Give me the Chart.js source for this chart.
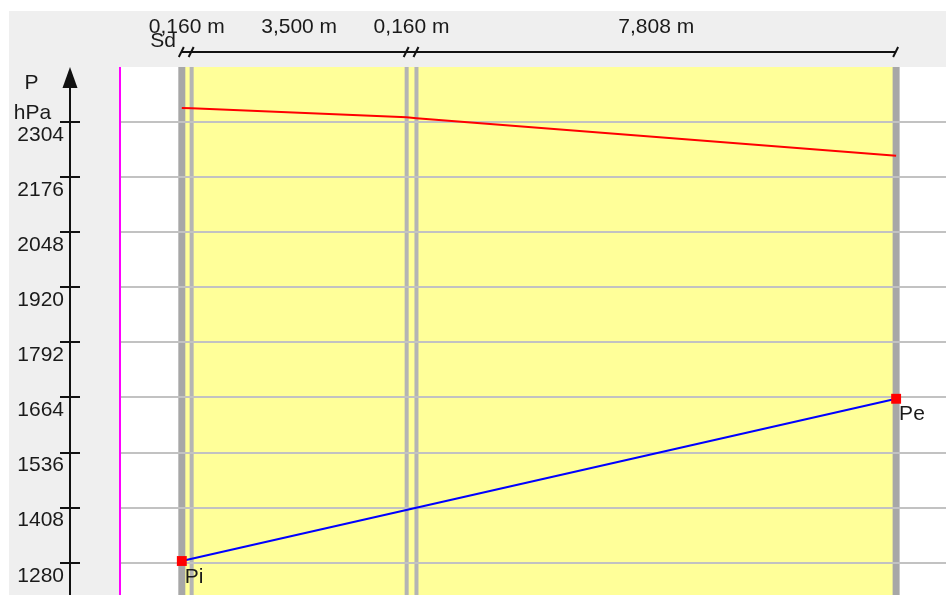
<!DOCTYPE html>
<html>
<head>
<meta charset="utf-8">
<script src="https://cdn.jsdelivr.net/npm/chart.js@4/dist/chart.umd.min.js"></script>
<style>
  html, body { margin: 0; padding: 0; background: #fff; overflow: hidden; }
  #wrap { position: relative; width: 946px; height: 595px; }
  canvas { display: block; }
</style>
</head>
<body>
<div id="wrap"><canvas id="glaser" width="946" height="595"></canvas></div>
<script>
// Layer build-up: diffusion-equivalent air layer thickness Sd of each layer (m)
const layerLabels = ['0,160 m', '3,500 m', '0,160 m', '7,808 m'];
// Cumulative Sd at each layer boundary (m)
const boundarySd = [0, 0.16, 3.66, 3.82, 11.628];
// Saturation vapour pressure at each boundary (hPa)
const psat = [2337, 2336, 2315, 2313, 2226];
// Partial vapour pressure inside (Pi) and outside (Pe)
const vapourSd = [0, 11.628];
const vapourP = [1284, 1661];
const vapourNames = ['Pi', 'Pe'];
// Pressure axis ticks (hPa)
const pTicks = [1280, 1408, 1536, 1664, 1792, 1920, 2048, 2176, 2304];

const X_MIN = -0.99, X_MAX = 12.44;
const Y_MIN = 1205, Y_MAX = 2432;

const FONT = '21px "Liberation Sans", Arial, sans-serif';
const TEXT = '#1a1a1a';

const toXY = (xs, ys) => xs.map((v, i) => ({ x: v, y: ys[i] }));

const framePlugin = {
  id: 'frame',
  beforeDraw(chart) {
    const { ctx, chartArea: a, scales: { x } } = chart;
    ctx.save();
    ctx.fillStyle = '#ffffff';
    ctx.fillRect(0, 0, chart.width, chart.height);
    // grey panels for the Sd band and the pressure axis
    ctx.fillStyle = '#efefef';
    ctx.fillRect(9, 11, chart.width - 9, a.top - 11);
    ctx.fillRect(9, 11, a.left - 2 - 9, chart.height - 11);
    // wall cross-section
    const x0 = x.getPixelForValue(boundarySd[0]);
    const x1 = x.getPixelForValue(boundarySd[boundarySd.length - 1]);
    ctx.fillStyle = '#ffff99';
    ctx.fillRect(x0, a.top, x1 - x0, a.bottom - a.top);
    // layer boundaries
    boundarySd.forEach((v, i) => {
      const outer = i === 0 || i === boundarySd.length - 1;
      const w = outer ? 7 : 4;
      const px = x.getPixelForValue(v);
      ctx.fillStyle = outer ? '#a7a7a7' : '#b4b4b4';
      ctx.fillRect(px - w / 2, a.top, w, a.bottom - a.top);
    });
    ctx.restore();
  },
  afterDraw(chart) {
    const { ctx, chartArea: a, scales: { x, y } } = chart;
    ctx.save();
    // left edge of the diagram
    ctx.fillStyle = '#ff00ff';
    ctx.fillRect(a.left - 2, a.top, 2, a.bottom - a.top);

    // pressure axis with arrow
    ctx.fillStyle = '#111';
    ctx.fillRect(69, 86, 2, chart.height - 86);
    ctx.beginPath();
    ctx.moveTo(70, 67);
    ctx.lineTo(77.5, 88);
    ctx.lineTo(62.5, 88);
    ctx.closePath();
    ctx.fill();
    pTicks.forEach(v => {
      const py = Math.round(y.getPixelForValue(v));
      ctx.fillRect(60, py - 1, 20, 2);
    });
    ctx.font = FONT;
    ctx.fillStyle = TEXT;
    ctx.textAlign = 'center';
    ctx.textBaseline = 'alphabetic';
    ctx.fillText('P', 31.5, 89);
    ctx.fillText('hPa', 32.5, 119);

    // Sd axis along the top
    const x0 = x.getPixelForValue(boundarySd[0]);
    const x1 = x.getPixelForValue(boundarySd[boundarySd.length - 1]);
    ctx.fillStyle = '#111';
    ctx.fillRect(x0, 51, x1 - x0, 2);
    ctx.strokeStyle = '#111';
    ctx.lineWidth = 2;
    boundarySd.forEach(v => {
      const px = x.getPixelForValue(v);
      ctx.beginPath();
      ctx.moveTo(px - 3, 57);
      ctx.lineTo(px + 2, 47);
      ctx.stroke();
    });
    ctx.fillStyle = TEXT;
    ctx.textAlign = 'center';
    layerLabels.forEach((t, i) => {
      const mid = (x.getPixelForValue(boundarySd[i]) + x.getPixelForValue(boundarySd[i + 1])) / 2;
      ctx.fillText(t, mid, 33);
    });
    ctx.textAlign = 'right';
    ctx.fillText('Sd', x0 - 6, 47);

    // Pi / Pe labels
    const meta = chart.getDatasetMeta(0);
    ctx.textAlign = 'left';
    meta.data.forEach((pt, i) => {
      ctx.fillText(vapourNames[i], pt.x + 3, pt.y + 21.5);
    });
    ctx.restore();
  }
};

new Chart(document.getElementById('glaser'), {
  type: 'scatter',
  data: {
    datasets: [
      {
        label: 'Pi/Pe',
        data: toXY(vapourSd, vapourP),
        showLine: false,
        pointStyle: 'rect',
        pointRadius: 7,
        pointBackgroundColor: '#ff0000',
        pointBorderWidth: 0
      },
      {
        label: 'Psat',
        data: toXY(boundarySd, psat),
        showLine: true,
        borderColor: '#ff0000',
        borderWidth: 2,
        pointRadius: 0,
        tension: 0
      },
      {
        label: 'P',
        data: toXY(vapourSd, vapourP),
        showLine: true,
        borderColor: '#0000ff',
        borderWidth: 2,
        pointRadius: 0,
        tension: 0
      }
    ]
  },
  options: {
    responsive: false,
    devicePixelRatio: 1,
    animation: false,
    events: [],
    layout: { autoPadding: false, padding: { top: 67, left: 0, right: 0, bottom: 0 } },
    plugins: { legend: { display: false }, tooltip: { enabled: false } },
    scales: {
      x: { type: 'linear', min: X_MIN, max: X_MAX, display: false },
      y: {
        type: 'linear',
        position: 'left',
        min: Y_MIN,
        max: Y_MAX,
        afterBuildTicks: s => { s.ticks = pTicks.map(v => ({ value: v })); },
        afterFit: s => { s.width = 121; s.paddingTop = 0; s.paddingBottom = 0; },
        grid: { color: '#c2c2c2', lineWidth: 2, drawTicks: false },
        border: { display: false },
        ticks: {
          autoSkip: false,
          padding: 57,
          labelOffset: 13,
          color: TEXT,
          font: { family: '"Liberation Sans", Arial, sans-serif', size: 21 },
          callback: v => String(v)
        }
      }
    }
  },
  plugins: [framePlugin]
});
</script>
</body>
</html>
